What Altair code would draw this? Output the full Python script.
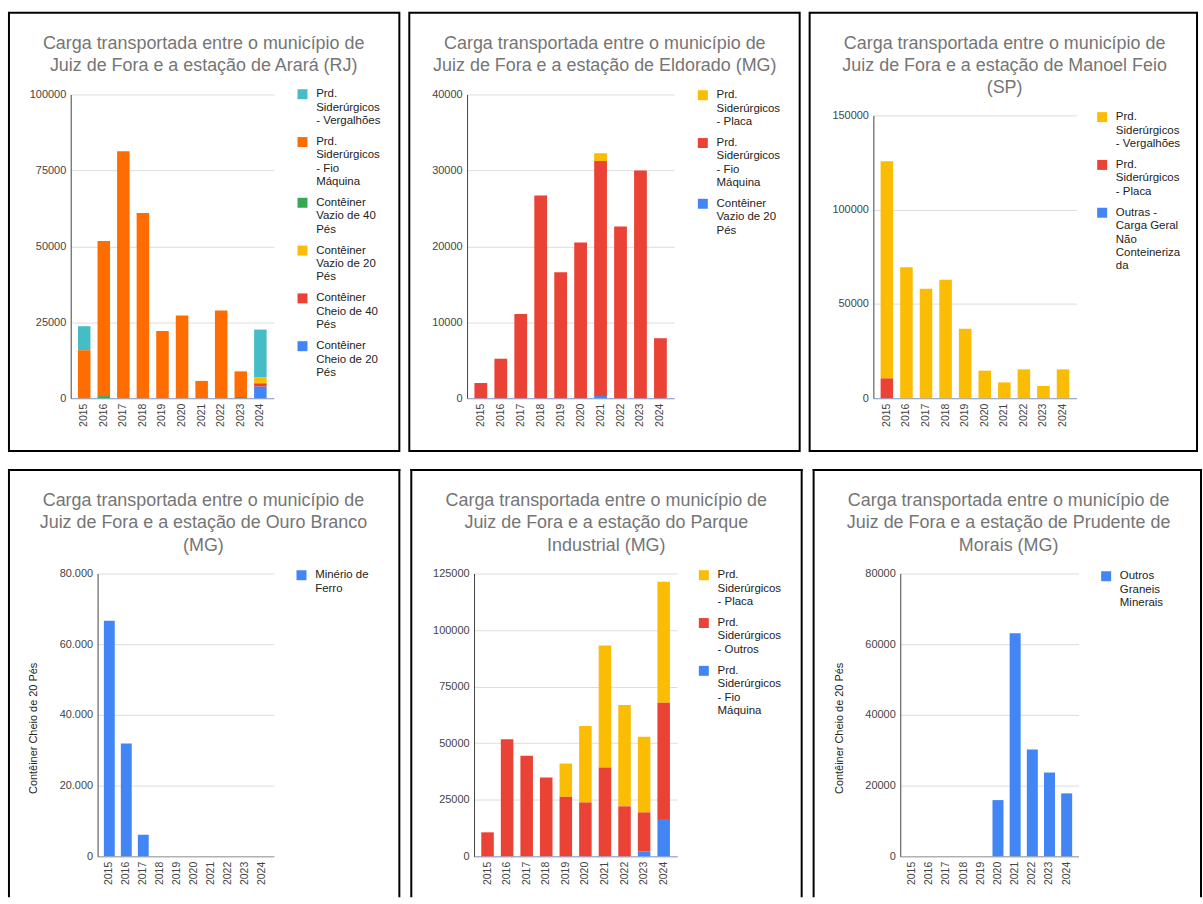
import altair as alt
import pandas as pd

FONT = "Liberation Sans"

YEARS = ["2015", "2016", "2017", "2018", "2019", "2020", "2021", "2022", "2023", "2024"]

BLUE = "#4285f4"
RED = "#ea4335"
YELLOW = "#fbbc04"
GREEN = "#34a853"
ORANGE = "#ff6d01"
TEAL = "#46bdc6"

# ---------- Panel 1: Arará (RJ) ----------
P1_TITLE = ["Carga transportada entre o município de", "Juiz de Fora e a estação de Arará (RJ)"]
P1_SERIES = [
    "Prd.\nSiderúrgicos\n- Vergalhões",
    "Prd.\nSiderúrgicos\n- Fio\nMáquina",
    "Contêiner\nVazio de 40\nPés",
    "Contêiner\nVazio de 20\nPés",
    "Contêiner\nCheio de 40\nPés",
    "Contêiner\nCheio de 20\nPés",
]
P1_COLORS = [TEAL, ORANGE, GREEN, YELLOW, RED, BLUE]
P1_VERGALHOES = [7900, 0, 0, 0, 0, 0, 0, 0, 200, 15800]
P1_FIO = [15800, 51100, 81300, 61000, 22100, 27200, 5700, 28900, 8300, 0]
P1_VAZIO40 = [0, 700, 0, 0, 0, 0, 0, 0, 400, 0]
P1_VAZIO20 = [0, 0, 0, 0, 0, 0, 0, 0, 0, 1900]
P1_CHEIO40 = [0, 0, 0, 0, 0, 0, 0, 0, 0, 1100]
P1_CHEIO20 = [0, 0, 0, 0, 0, 0, 0, 0, 0, 3800]
P1_TICKS = [0, 25000, 50000, 75000, 100000]

# ---------- Panel 2: Eldorado (MG) ----------
P2_TITLE = ["Carga transportada entre o município de", "Juiz de Fora e a estação de Eldorado (MG)"]
P2_SERIES = [
    "Prd.\nSiderúrgicos\n- Placa",
    "Prd.\nSiderúrgicos\n- Fio\nMáquina",
    "Contêiner\nVazio de 20\nPés",
]
P2_COLORS = [YELLOW, RED, BLUE]
P2_PLACA = [0, 0, 0, 0, 0, 0, 1000, 0, 0, 0]
P2_FIO = [2000, 5200, 11100, 26700, 16600, 20500, 30950, 22600, 30000, 7900]
P2_VAZIO20 = [0, 0, 0, 0, 0, 0, 300, 0, 0, 0]
P2_TICKS = [0, 10000, 20000, 30000, 40000]

# ---------- Panel 3: Manoel Feio (SP) ----------
P3_TITLE = ["Carga transportada entre o município de", "Juiz de Fora e a estação de Manoel Feio", "(SP)"]
P3_SERIES = [
    "Prd.\nSiderúrgicos\n- Vergalhões",
    "Prd.\nSiderúrgicos\n- Placa",
    "Outras -\nCarga Geral\nNão\nConteineriza\nda",
]
P3_COLORS = [YELLOW, RED, BLUE]
P3_VERGALHOES = [115200, 69500, 58000, 62800, 36900, 14600, 8400, 15300, 6500, 15300]
P3_PLACA = [10500, 0, 0, 0, 0, 0, 0, 0, 0, 0]
P3_OUTRAS = [0, 0, 0, 0, 0, 0, 0, 0, 0, 0]
P3_TICKS = [0, 50000, 100000, 150000]

# ---------- Panel 4: Ouro Branco (MG) ----------
P4_TITLE = ["Carga transportada entre o município de", "Juiz de Fora e a estação de Ouro Branco", "(MG)"]
P4_SERIES = ["Minério de\nFerro"]
P4_COLORS = [BLUE]
P4_MINERIO = [66600, 31900, 6100, 0, 0, 0, 0, 0, 0, 0]
P4_TICKS = [0, 20000, 40000, 60000, 80000]

# ---------- Panel 5: Parque Industrial (MG) ----------
P5_TITLE = ["Carga transportada entre o município de", "Juiz de Fora e a estação do Parque", "Industrial (MG)"]
P5_SERIES = [
    "Prd.\nSiderúrgicos\n- Placa",
    "Prd.\nSiderúrgicos\n- Outros",
    "Prd.\nSiderúrgicos\n- Fio\nMáquina",
]
P5_COLORS = [YELLOW, RED, BLUE]
P5_PLACA = [0, 0, 0, 0, 14700, 33800, 53900, 44800, 33400, 53500]
P5_OUTROS = [10600, 51700, 44400, 34800, 26300, 23800, 39300, 22100, 17200, 51400]
P5_FIO = [0, 0, 0, 0, 0, 0, 0, 0, 2200, 16500]
P5_TICKS = [0, 25000, 50000, 75000, 100000, 125000]

# ---------- Panel 6: Prudente de Morais (MG) ----------
P6_TITLE = ["Carga transportada entre o município de", "Juiz de Fora e a estação de Prudente de", "Morais (MG)"]
P6_SERIES = ["Outros\nGraneis\nMinerais"]
P6_COLORS = [BLUE]
P6_GRANEIS = [0, 0, 0, 0, 0, 15900, 63100, 30200, 23700, 17800]
P6_TICKS = [0, 20000, 40000, 60000, 80000]

Y_TITLE = "Contêiner Cheio de 20 Pés"

ONE = pd.DataFrame({"k": [0]})

DOT_EXPR = ("datum.value >= 1000 ? format(floor(datum.value / 1000), 'd') + '.' + "
            "format(datum.value % 1000, '03d') : format(datum.value, 'd')")


def border_closed(x1, y1, x2, y2):
    return alt.Chart(ONE).mark_rect(filled=False, stroke="black", strokeWidth=2).encode(
        x=alt.value(x1), x2=alt.value(x2), y=alt.value(y1), y2=alt.value(y2)
    )


def border_open(x1, y1, x2, y2):
    base = alt.Chart(ONE).mark_rule(color="black", strokeWidth=2, strokeCap="square")
    top = base.encode(x=alt.value(x1), x2=alt.value(x2), y=alt.value(y1), y2=alt.value(y1))
    left = base.encode(x=alt.value(x1), x2=alt.value(x1), y=alt.value(y1), y2=alt.value(y2))
    right = base.encode(x=alt.value(x2), x2=alt.value(x2), y=alt.value(y1), y2=alt.value(y2))
    return [top, left, right]


def panel(title_lines, series, colors, values, ticks, geom, dots=False, ytitle=False,
          open_bottom=False, xdomain="#8a9cc9"):
    rows = []
    n = len(series)
    for i, s in enumerate(series):
        for yr, v in zip(YEARS, values[i]):
            rows.append({"year": yr, "series": s, "value": v, "stack": n - 1 - i})
    df = pd.DataFrame(rows)

    yaxis_kw = dict(values=ticks, grid=True, gridColor="#dddddd", gridWidth=1,
                    domain=True, domainColor="#444444", ticks=False, labelPadding=5,
                    labelFontSize=11, labelColor="#444444", labelFont=FONT)
    if dots:
        yaxis_kw["labelExpr"] = DOT_EXPR
    else:
        yaxis_kw["format"] = "d"
    if "yoff" in geom:
        yaxis_kw["offset"] = geom["yoff"]
    if ytitle:
        yaxis_kw.update(title=Y_TITLE, titleFontSize=11, titleFontWeight="normal",
                        titleColor="#222222", titleFont=FONT,
                        titleX=geom["ytx"], titleY=geom["yty"])
        ytitle_val = Y_TITLE
    else:
        ytitle_val = None

    xscale_kw = dict(domain=YEARS, paddingInner=0.36, paddingOuter=0.37)
    if "xrange" in geom:
        xscale_kw["range"] = geom["xrange"]
    yscale_kw = dict(domain=[0, ticks[-1]], nice=False)
    if "yrange" in geom:
        yscale_kw["range"] = geom["yrange"]

    bars = alt.Chart(df).mark_bar().encode(
        x=alt.X("year:O", title=None, scale=alt.Scale(**xscale_kw),
                axis=alt.Axis(labelAngle=270, ticks=False, labelPadding=5, labelFontSize=10.5,
                              labelColor="#444444", labelFont=FONT, domainColor=xdomain,
                              grid=False)),
        y=alt.Y("value:Q", stack="zero", title=ytitle_val,
                scale=alt.Scale(**yscale_kw),
                axis=alt.Axis(**yaxis_kw)),
        color=alt.Color("series:N",
                        scale=alt.Scale(domain=series, range=colors),
                        legend=alt.Legend(orient="none", legendX=geom["lx"], legendY=geom["ly"],
                                          title=None, labelExpr="split(datum.label, '\\n')",
                                          symbolType="square", symbolSize=100,
                                          symbolStrokeWidth=0, labelFontSize=11.5,
                                          labelColor="#222222", labelFont=FONT,
                                          rowPadding=8, padding=0, labelOffset=8,
                                          labelLimit=200)),
        order=alt.Order("stack:Q", sort="ascending"),
    )

    title = alt.Chart(ONE).mark_text(align="center", baseline="alphabetic", fontSize=18,
                                     color="#757575", lineHeight=22.5, font=FONT).encode(
        x=alt.value(geom["tx"]), y=alt.value(geom["ty"]), text=alt.value(title_lines)
    )

    bx1, by1, bx2, by2 = geom["box"]
    if open_bottom:
        borders = border_open(bx1, by1, bx2, by2)
    else:
        borders = [border_closed(bx1, by1, bx2, by2)]

    return alt.layer(*borders, title, bars).properties(width=geom["W"], height=geom["H"])


# Row 1: view origin y = 93 ; Row 2: view origin y = 573 (page pixels)
G1 = dict(W=177, H=305, xrange=[-27, 177], yoff=27, box=(-89, -82, 303, 358),
          tx=106.5, ty=-46, lx=200, ly=-6)
G2 = dict(W=208, H=305, box=(-58, -82, 334, 358), tx=138.3, ty=-46, lx=231, ly=-5)
G3 = dict(W=204, H=305, yrange=[305, 21], box=(-64, -82, 325, 358),
          tx=131.8, ty=-46, lx=224, ly=17)
G4 = dict(W=177, H=284, box=(-89, -104, 303, 324), tx=106.3, ty=-68, lx=199, ly=-4,
          ytx=-59, yty=155)
G5 = dict(W=204, H=284, box=(-63, -104, 329, 324), tx=132.8, ty=-68, lx=225, ly=-4)
G6 = dict(W=179, H=284, box=(-87, -104, 302, 324), tx=108.8, ty=-68, lx=201, ly=-3,
          ytx=-56, yty=155)

p1 = panel(P1_TITLE, P1_SERIES, P1_COLORS,
           [P1_VERGALHOES, P1_FIO, P1_VAZIO40, P1_VAZIO20, P1_CHEIO40, P1_CHEIO20], P1_TICKS, G1)
p2 = panel(P2_TITLE, P2_SERIES, P2_COLORS, [P2_PLACA, P2_FIO, P2_VAZIO20], P2_TICKS, G2)
p3 = panel(P3_TITLE, P3_SERIES, P3_COLORS, [P3_VERGALHOES, P3_PLACA, P3_OUTRAS], P3_TICKS, G3)
p4 = panel(P4_TITLE, P4_SERIES, P4_COLORS, [P4_MINERIO], P4_TICKS, G4, dots=True, ytitle=True,
           open_bottom=True, xdomain="#999999")
p5 = panel(P5_TITLE, P5_SERIES, P5_COLORS, [P5_PLACA, P5_OUTROS, P5_FIO], P5_TICKS, G5,
           open_bottom=True)
p6 = panel(P6_TITLE, P6_SERIES, P6_COLORS, [P6_GRANEIS], P6_TICKS, G6, ytitle=True,
           open_bottom=True, xdomain="#999999")

row1 = alt.hconcat(p1, p2, p3, spacing=8).resolve_scale(color="independent").resolve_legend(color="independent")
row2 = alt.hconcat(p4, p5, p6, spacing=8).resolve_scale(color="independent").resolve_legend(color="independent")

chart = (
    alt.vconcat(row1, row2, spacing=16)
    .resolve_scale(color="independent", x="independent", y="independent")
    .resolve_legend(color="independent")
    .properties(padding={"left": 7, "top": 10, "right": 0, "bottom": 0}, background="white")
    .configure(font=FONT)
    .configure_view(stroke=None)
)

chart.save("out.html", embed_options={"renderer": "svg", "actions": False})
